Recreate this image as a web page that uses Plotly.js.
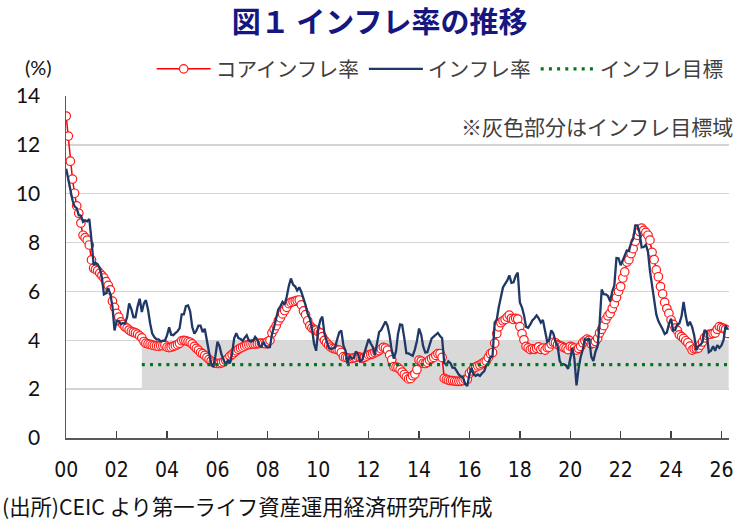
<!DOCTYPE html>
<html>
<head>
<meta charset="utf-8">
<script src="https://cdn.plot.ly/plotly-3.0.1.min.js"></script>
<style>
  html, body { margin: 0; padding: 0; background: #ffffff; }
  #chart { width: 740px; height: 520px; }
</style>
</head>
<body>
<div id="chart"></div>
<script>
// Monthly series, January 2000 through April 2026 (% y/y)
const START_YEAR = 2000;

// インフレ率 (headline)
const headline = [
  11.02, 10.52, 10.11, 9.73, 9.48, 9.41, 9.12, 9.10, 8.85, 8.91, 8.87, 8.96,   // 2000
  8.11, 7.09, 7.17, 7.11, 6.95, 6.57, 5.88, 5.93, 6.14, 5.89, 5.39, 4.40,     // 2001
  4.79, 4.79, 4.66, 4.70, 4.68, 4.94, 5.51, 5.29, 4.95, 4.94, 5.39, 5.70,     // 2002
  5.16, 5.52, 5.64, 5.25, 4.70, 4.27, 4.13, 4.04, 4.04, 3.96, 3.98, 3.98,     // 2003
  4.20, 4.53, 4.23, 4.21, 4.29, 4.37, 4.49, 5.06, 5.06, 5.40, 5.43, 5.19,     // 2004
  4.54, 4.27, 4.39, 4.60, 4.60, 4.33, 4.47, 3.95, 3.51, 3.05, 2.91, 3.33,     // 2005
  3.94, 3.75, 3.41, 3.20, 3.00, 3.18, 3.06, 3.47, 4.09, 4.29, 4.09, 4.05,     // 2006
  3.98, 4.11, 4.21, 3.99, 3.95, 3.98, 4.14, 4.03, 3.79, 3.74, 3.93, 3.76,     // 2007
  3.70, 3.72, 4.25, 4.55, 4.95, 5.26, 5.39, 5.57, 5.47, 5.78, 6.23, 6.53,     // 2008
  6.28, 6.20, 6.04, 6.17, 5.98, 5.74, 5.44, 5.08, 4.89, 4.50, 3.86, 3.57,     // 2009
  4.46, 4.83, 4.97, 4.27, 3.92, 3.69, 3.64, 3.68, 3.70, 4.02, 4.32, 4.40,     // 2010
  3.78, 3.57, 3.04, 3.36, 3.25, 3.28, 3.55, 3.42, 3.14, 3.20, 3.48, 3.82,     // 2011
  4.05, 3.87, 3.73, 3.41, 3.85, 4.34, 4.42, 4.57, 4.77, 4.60, 4.18, 3.57,     // 2012
  3.25, 3.55, 4.25, 4.65, 4.63, 4.09, 3.47, 3.46, 3.39, 3.36, 3.62, 3.97,     // 2013
  4.48, 4.23, 3.76, 3.50, 3.51, 3.75, 4.07, 4.15, 4.22, 4.30, 4.17, 4.08,     // 2014
  3.07, 3.00, 3.14, 3.06, 2.88, 2.87, 2.74, 2.59, 2.52, 2.48, 2.21, 2.13,     // 2015
  2.61, 2.87, 2.60, 2.54, 2.60, 2.54, 2.65, 2.73, 2.97, 3.06, 3.31, 3.36,     // 2016
  4.72, 4.86, 5.35, 5.82, 6.16, 6.31, 6.44, 6.66, 6.35, 6.37, 6.63, 6.77,     // 2017
  5.55, 5.34, 5.04, 4.55, 4.51, 4.65, 4.81, 4.90, 5.02, 4.90, 4.72, 4.83,     // 2018
  4.37, 3.94, 4.00, 4.41, 4.28, 3.95, 3.78, 3.16, 3.00, 3.02, 2.97, 2.83,     // 2019
  3.24, 3.70, 3.25, 2.15, 2.84, 3.33, 3.62, 4.05, 4.01, 4.09, 3.33, 3.15,     // 2020
  3.54, 3.76, 4.67, 6.08, 5.89, 5.88, 5.81, 5.59, 6.00, 6.24, 7.37, 7.36,     // 2021
  7.07, 7.28, 7.45, 7.68, 7.65, 7.99, 8.15, 8.70, 8.70, 8.41, 7.80, 7.82,     // 2022
  7.91, 7.62, 6.85, 6.25, 5.84, 5.06, 4.79, 4.64, 4.45, 4.26, 4.32, 4.66,     // 2023
  4.88, 4.40, 4.42, 4.65, 4.69, 4.98, 5.57, 4.99, 4.58, 4.76, 4.55, 4.21,     // 2024
  3.59, 3.77, 3.80, 3.93, 4.42, 4.32, 3.51, 3.57, 3.76, 3.57, 3.80, 3.69,     // 2025
  3.79, 4.02, 4.60, 4.45                                                      // 2026
];

// コアインフレ率 (core)
const core = [
  13.18, 12.36, 11.33, 10.60, 10.02, 9.50, 9.20, 8.80, 8.30, 8.20, 8.10, 7.90, // 2000
  7.29, 6.95, 6.90, 6.85, 6.75, 6.65, 6.55, 6.40, 6.25, 6.06, 5.60, 5.35,     // 2001
  5.10, 4.95, 4.75, 4.65, 4.55, 4.50, 4.42, 4.36, 4.33, 4.30, 4.25, 4.18,     // 2002
  4.10, 3.95, 3.88, 3.85, 3.83, 3.80, 3.78, 3.77, 3.76, 3.78, 3.78, 3.80,     // 2003
  3.72, 3.70, 3.72, 3.75, 3.78, 3.82, 3.88, 3.98, 4.00, 3.98, 3.95, 3.92,     // 2004
  3.85, 3.75, 3.67, 3.60, 3.50, 3.45, 3.38, 3.30, 3.22, 3.15, 3.10, 3.06,     // 2005
  3.05, 3.05, 3.08, 3.12, 3.18, 3.25, 3.35, 3.42, 3.50, 3.57, 3.63, 3.68,     // 2006
  3.72, 3.76, 3.80, 3.82, 3.84, 3.85, 3.85, 3.86, 3.87, 3.88, 3.87, 3.86,     // 2007
  3.95, 4.00, 4.30, 4.45, 4.60, 4.80, 4.92, 5.08, 5.22, 5.35, 5.50, 5.55,     // 2008
  5.58, 5.60, 5.63, 5.65, 5.45, 5.20, 5.05, 4.80, 4.60, 4.50, 4.45, 4.42,     // 2009
  4.35, 4.30, 4.15, 4.00, 3.90, 3.80, 3.72, 3.67, 3.65, 3.62, 3.60, 3.50,     // 2010
  3.33, 3.30, 3.28, 3.26, 3.25, 3.28, 3.30, 3.33, 3.30, 3.26, 3.30, 3.35,     // 2011
  3.40, 3.42, 3.45, 3.50, 3.53, 3.58, 3.65, 3.71, 3.68, 3.60, 3.40, 3.20,     // 2012
  2.92, 2.90, 2.88, 2.80, 2.70, 2.60, 2.50, 2.42, 2.44, 2.55, 2.62, 2.80,     // 2013
  3.19, 3.15, 3.06, 3.05, 3.10, 3.19, 3.25, 3.30, 3.38, 3.45, 3.45, 3.30,     // 2014
  2.44, 2.40, 2.37, 2.35, 2.35, 2.33, 2.32, 2.32, 2.33, 2.35, 2.40, 2.40,     // 2015
  2.65, 2.75, 2.85, 2.90, 2.95, 2.99, 3.05, 3.10, 3.15, 3.30, 3.45, 3.50,     // 2016
  3.88, 4.28, 4.55, 4.72, 4.80, 4.85, 4.95, 5.03, 4.90, 4.85, 4.90, 4.87,     // 2017
  4.56, 4.27, 4.02, 3.75, 3.69, 3.62, 3.65, 3.63, 3.67, 3.73, 3.63, 3.68,     // 2018
  3.60, 3.70, 3.72, 3.85, 3.92, 3.90, 3.82, 3.78, 3.75, 3.70, 3.67, 3.62,     // 2019
  3.75, 3.72, 3.68, 3.60, 3.67, 3.75, 3.90, 3.98, 4.05, 4.00, 3.85, 3.88,     // 2020
  3.95, 4.08, 4.30, 4.45, 4.60, 4.85, 5.00, 5.10, 5.30, 5.50, 5.75, 6.00,     // 2021
  6.20, 6.55, 6.80, 7.20, 7.30, 7.55, 7.75, 8.05, 8.30, 8.45, 8.59, 8.50,     // 2022
  8.42, 8.30, 8.10, 7.60, 7.30, 6.88, 6.60, 6.20, 5.90, 5.55, 5.30, 5.10,     // 2023
  4.83, 4.65, 4.50, 4.40, 4.22, 4.15, 4.08, 3.98, 3.90, 3.76, 3.60, 3.65,     // 2024
  3.66, 3.68, 3.80, 3.93, 4.10, 4.20, 4.24, 4.25, 4.28, 4.30, 4.45, 4.56,     // 2025
  4.52, 4.49, 4.45, 4.28                                                      // 2026
];

// インフレ目標 (3% ± 1%), in force from January 2003
const TARGET_START = '2003-01-01';
const TARGET_END = '2026-04-15';
const TARGET = 3;
const TARGET_LOW = 2;
const TARGET_HIGH = 4;

// Axis ticks: every second year, labelled with two digits
const TICK_YEARS = [2000, 2002, 2004, 2006, 2008, 2010, 2012, 2014, 2016, 2018, 2020, 2022, 2024, 2026];
const TICK_LABELS = ['00', '02', '04', '06', '08', '10', '12', '14', '16', '18', '20', '22', '24', '26'];

function monthDates(n) {
  const out = [];
  for (let i = 0; i < n; i++) {
    const y = START_YEAR + Math.floor(i / 12);
    const m = (i % 12) + 1;
    out.push(y + '-' + (m < 10 ? '0' + m : m) + '-01');
  }
  return out;
}

const dates = monthDates(headline.length);
const JP = '"Noto Sans CJK JP", "Noto Sans", sans-serif';

const traces = [
  {
    // shaded target range
    x: [TARGET_START, TARGET_END, TARGET_END, TARGET_START],
    y: [TARGET_LOW, TARGET_LOW, TARGET_HIGH, TARGET_HIGH],
    mode: 'lines',
    fill: 'toself',
    fillcolor: '#d9d9d9',
    line: { width: 0, color: '#d9d9d9' },
    showlegend: false,
    hoverinfo: 'skip'
  },
  {
    name: 'コアインフレ率',
    x: dates,
    y: core,
    mode: 'lines+markers',
    line: { color: '#ff0000', width: 1.5 },
    marker: { symbol: 'circle', size: 8.5, color: '#ffffff', line: { color: '#ff1a1a', width: 1.2 } }
  },
  {
    name: 'インフレ率',
    x: dates,
    y: headline,
    mode: 'lines',
    line: { color: '#1f3866', width: 2.3 }
  },
  {
    name: 'インフレ目標',
    x: [TARGET_START, TARGET_END],
    y: [TARGET, TARGET],
    mode: 'lines',
    line: { color: '#00761f', width: 3.2, dash: '3px,5.2px' }
  }
];

const layout = {
  width: 740,
  height: 520,
  margin: { l: 66, r: 11, t: 96, b: 82 },
  paper_bgcolor: '#ffffff',
  plot_bgcolor: '#ffffff',
  title: {
    text: '<b>図１ インフレ率の推移</b>',
    font: { family: JP, size: 29, color: '#161680' },
    xref: 'container', x: 0.513, xanchor: 'center',
    yref: 'container', y: 0.956, yanchor: 'middle'
  },
  showlegend: true,
  legend: {
    orientation: 'h',
    xref: 'container', x: 0.205, xanchor: 'left',
    yref: 'container', y: 0.906, yanchor: 'top',
    font: { family: JP, size: 20.7, color: '#404040' },
    itemwidth: 54,
    bgcolor: 'rgba(0,0,0,0)',
    traceorder: 'normal'
  },
  xaxis: {
    type: 'date',
    range: ['1999-12-29', '2026-04-20'],
    tickvals: TICK_YEARS.map(y => y + '-01-01'),
    ticktext: TICK_LABELS,
    ticks: 'inside',
    ticklen: 7,
    tickwidth: 1.3,
    tickcolor: '#404040',
    showline: true,
    linecolor: '#595959',
    linewidth: 1.5,
    showgrid: false,
    zeroline: false,
    ticklabelstandoff: 12,
    tickfont: { family: '"Liberation Sans Narrow", "DejaVu Sans Condensed", sans-serif', size: 21, color: '#111111' }
  },
  yaxis: {
    range: [0, 14],
    tickvals: [0, 2, 4, 6, 8, 10, 12, 14],
    showgrid: true,
    gridcolor: '#d4d4d4',
    gridwidth: 1.5,
    showline: true,
    linecolor: '#595959',
    linewidth: 1.5,
    zeroline: false,
    ticks: '',
    ticklabelstandoff: 20,
    tickfont: { family: 'Lato, "Open Sans", sans-serif', size: 21, color: '#111111' }
  },
  annotations: [
    {
      text: '(%)',
      xref: 'paper', yref: 'paper',
      x: -0.042, y: 1.085, xanchor: 'center', yanchor: 'middle',
      showarrow: false,
      font: { family: 'Lato, "Open Sans", sans-serif', size: 20, color: '#111111' }
    },
    {
      text: '※灰色部分はインフレ目標域',
      xref: 'paper', yref: 'paper',
      x: 1.009, y: 0.912, xanchor: 'right', yanchor: 'middle',
      showarrow: false,
      font: { family: JP, size: 21, color: '#404040' }
    },
    {
      text: '(出所)CEIC より第一ライフ資産運用経済研究所作成',
      xref: 'paper', yref: 'paper',
      x: -0.099, y: -0.196, xanchor: 'left', yanchor: 'middle',
      showarrow: false,
      font: { family: JP, size: 21.3, color: '#111111' }
    }
  ]
};

Plotly.newPlot('chart', traces, layout, { displayModeBar: false, staticPlot: true });
</script>
</body>
</html>
